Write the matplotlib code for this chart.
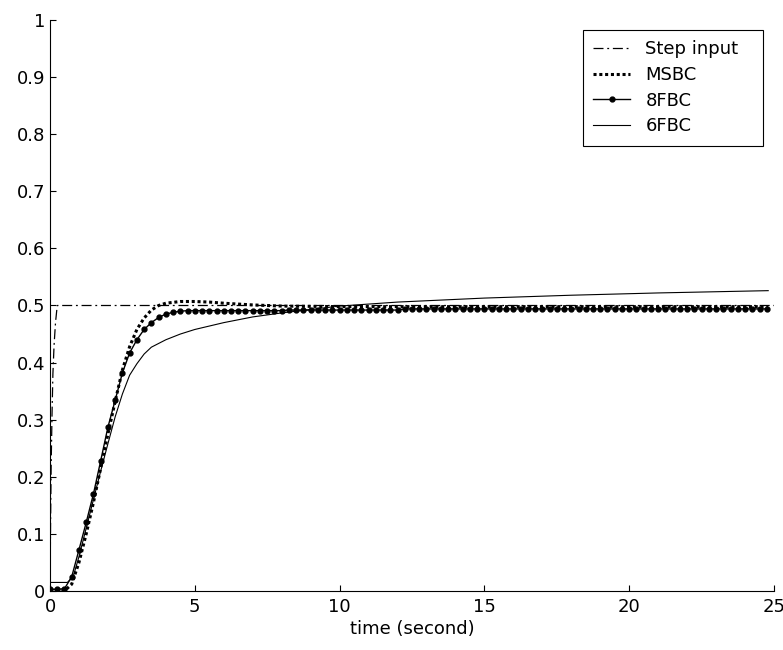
import numpy as np
import matplotlib.pyplot as plt

plt.rcParams['font.family'] = ['DejaVu Sans']

# step input
t_step = [0, 0.02, 0.04, 0.07, 0.1, 0.14, 0.19, 0.25, 25]
y_step = [0, 0.12, 0.22, 0.31, 0.38, 0.43, 0.47, 0.5, 0.5]

# MSBC
t_msbc = [0, 0.5, 0.75, 1.0, 1.25, 1.5, 1.75, 2.0, 2.25, 2.5, 2.75, 3.0, 3.25,
          3.5, 3.75, 4.0, 4.5, 5.0, 5.5, 6.0, 7.0, 8.0, 10.0, 15.0, 20.0, 24.8]
y_msbc = [0, 0, 0.012, 0.05, 0.1, 0.155, 0.215, 0.275, 0.332, 0.387, 0.428,
          0.458, 0.478, 0.492, 0.5, 0.504, 0.507, 0.507, 0.506, 0.504, 0.501,
          0.499, 0.498, 0.498, 0.498, 0.498]

# 8FBC, sampled every 0.25 s
t_8fbc = np.arange(100) * 0.25
y_8fbc = [0.003, 0.003, 0.004, 0.025, 0.072, 0.12, 0.17, 0.228, 0.287, 0.334,
          0.382, 0.417, 0.44, 0.458, 0.47, 0.479, 0.485, 0.488, 0.49, 0.491,
          0.491, 0.491, 0.491, 0.491, 0.491, 0.491, 0.491, 0.491, 0.491, 0.491,
          0.491, 0.491, 0.491, 0.492, 0.492, 0.492, 0.492, 0.492, 0.492, 0.492,
          0.492, 0.492, 0.492, 0.492, 0.492, 0.492, 0.492, 0.492, 0.492, 0.494,
          0.494, 0.494, 0.494, 0.494, 0.494, 0.494, 0.494, 0.494, 0.494, 0.494,
          0.494, 0.494, 0.494, 0.494, 0.494, 0.494, 0.494, 0.494, 0.494, 0.494,
          0.494, 0.494, 0.494, 0.494, 0.494, 0.494, 0.494, 0.494, 0.494, 0.494,
          0.494, 0.494, 0.494, 0.494, 0.494, 0.494, 0.494, 0.494, 0.494, 0.494,
          0.494, 0.494, 0.494, 0.494, 0.494, 0.494, 0.494, 0.494, 0.494, 0.494]

# 6FBC
t_6fbc = [0, 0.6, 0.8, 1.0, 1.25, 1.5, 1.75, 2.0, 2.25, 2.5, 2.75, 3.0, 3.25,
          3.5, 4.0, 4.5, 5.0, 5.5, 6.0, 7.0, 8.0, 9.0, 10.0, 12.0, 15.0, 18.0,
          21.0, 24.8]
y_6fbc = [0.015, 0.015, 0.025, 0.06, 0.11, 0.16, 0.21, 0.258, 0.305, 0.345,
          0.378, 0.398, 0.415, 0.427, 0.44, 0.45, 0.458, 0.464, 0.47, 0.48,
          0.487, 0.493, 0.499, 0.506, 0.513, 0.518, 0.522, 0.526]

fig = plt.figure(figsize=(7.83, 6.5), dpi=100)
ax = fig.add_axes([50 / 783, 1 - 591 / 650, 724 / 783, 571 / 650])

ax.plot(t_step, y_step, color='k', lw=0.9, dashes=(8, 3, 1.5, 3), label='Step input')
ax.plot(t_msbc, y_msbc, color='k', lw=2.2, dashes=(1, 0.9), label='MSBC')
ax.plot(t_8fbc, y_8fbc, color='k', lw=1.0, marker='o', ms=3.5, label='8FBC')
ax.plot(t_6fbc, y_6fbc, color='k', lw=0.8, label='6FBC')

ax.set_xlim(0, 25)
ax.set_ylim(0, 1)
ax.set_xticks([0, 5, 10, 15, 20, 25])
ax.set_yticks(np.arange(11) / 10)
ax.set_yticklabels(['0', '0.1', '0.2', '0.3', '0.4', '0.5', '0.6', '0.7', '0.8', '0.9', '1'])
ax.spines['top'].set_visible(False)
ax.spines['right'].set_visible(False)
ax.tick_params(direction='in', length=4, labelsize=13, colors='k')
ax.tick_params(axis='x', pad=5)
ax.set_xlabel('time (second)', fontsize=13, labelpad=3)

# legend box stretched to the reference width
leg = ax.legend(loc='upper left', bbox_to_anchor=(0.7362, 0.5, 0.2486, 0.4825),
                mode='expand', borderaxespad=0,
                fontsize=13, fancybox=False, edgecolor='k', framealpha=1,
                handlelength=2.05, handletextpad=0.85, labelspacing=0.43,
                borderpad=0.56)
leg.get_frame().set_linewidth(0.8)

fig.savefig('out.png', dpi=100)
